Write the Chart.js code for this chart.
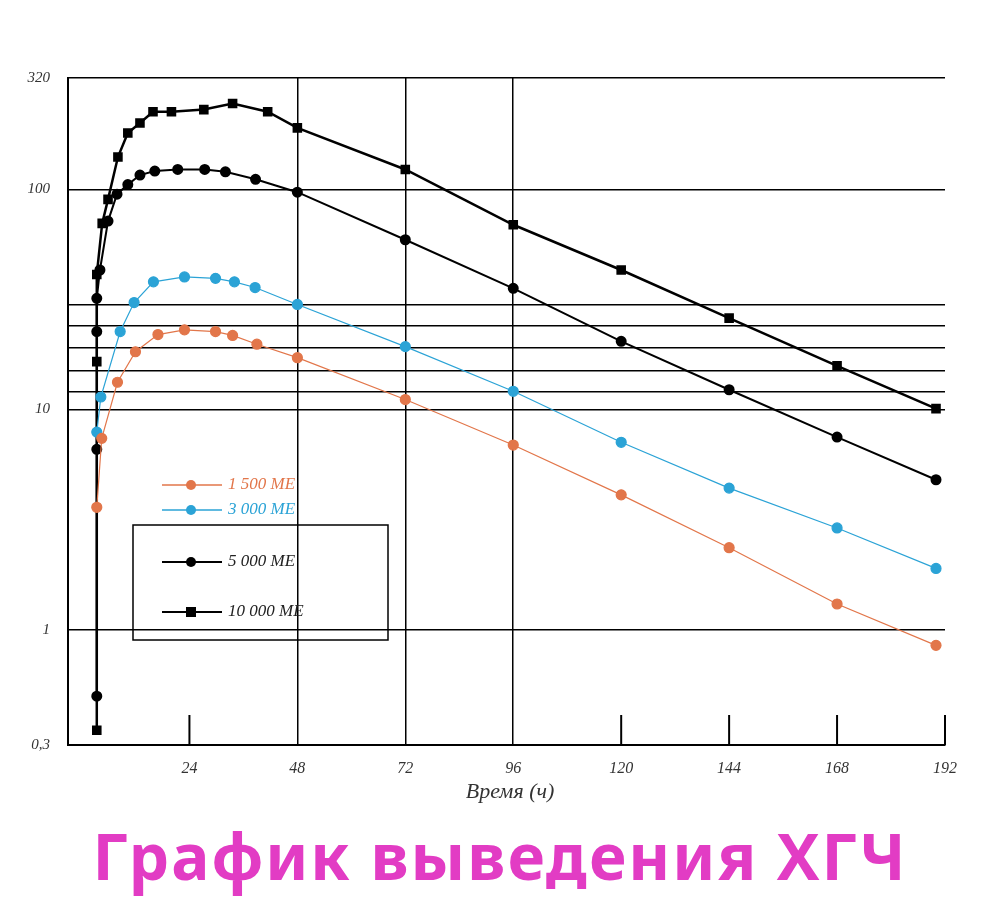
<!DOCTYPE html>
<html><head><meta charset="utf-8">
<script src="https://cdn.jsdelivr.net/npm/chart.js@4"></script>
<style>
body{margin:0;background:#fff;width:1000px;height:903px;overflow:hidden;position:relative}
#wrap{position:absolute;left:0;top:0;width:1000px;height:790px}
#xt{position:absolute;top:778px;left:440px;width:140px;text-align:center;font:italic 22px "Liberation Serif",serif;color:#333}
#tt{position:absolute;top:812px;left:0;width:1000px;text-align:center;font:bold 64px "Noto Sans","DejaVu Sans",sans-serif;color:#e23cc4;letter-spacing:2px}
</style></head><body>
<div id="wrap"><canvas id="c"></canvas></div>
<div id="xt">Время (ч)</div>
<div id="tt">График выведения ХГЧ</div>
<script>
const labels=["1 500 ME","3 000 ME","5 000 ME","10 000 ME"];
const xTicks=[24,48,72,96,120,144,168,192];
const yTicks=[0.3,1,10,12,15,19,24,30,100,320];
const yLabels={0.3:"0,3",1:"1",10:"10",100:"100",320:"320"};
const hOrange=[3.4,4.5,8,12,17,22.9,29.8,33.6,39,48,72,96,120,144,168,190];
const vOrange=[3.6,7.4,13.3,18.3,21.9,23,22.6,21.7,19.8,17.2,11.1,6.9,4.1,2.36,1.31,0.85];
const hBlue=[3.4,4.3,8.6,11.7,16,22.9,29.8,34,38.6,48,72,96,120,144,168,190];
const vBlue=[7.9,11.4,22.6,30.6,38,40,39.4,38,35.8,30,19.3,12.1,7.1,4.4,2.9,1.9];
const hBlack=[3.4,3.4,3.4,3.4,4.1,5.9,7.9,10.3,13,16.3,21.4,27.4,32,38.7,48,72,96,120,144,168,190];
const vBlack=[0.5,6.6,22.6,32,43,71.7,95,105,116,121,123,123,120,111,97,59,35.5,20.4,12.3,7.5,4.8];
const hSq=[3.4,3.4,3.4,4.6,5.9,8.1,10.3,13,15.9,20,27.2,33.6,41.4,48,72,96,120,144,168,190];
const vSq=[0.35,16.5,41,70,90,140,180,200,225,225,230,245,225,190,123,69,43,26,15.8,10.1];
const pts=(h,v)=>h.map((x,i)=>({x,y:v[i]}));
const colors=["#e2764a","#2ba3d6","#000","#000"];
const ds=[
 {label:labels[0],data:pts(hOrange,vOrange),borderColor:colors[0],backgroundColor:colors[0],borderWidth:1.2,pointRadius:5,pointStyle:'circle'},
 {label:labels[1],data:pts(hBlue,vBlue),borderColor:colors[1],backgroundColor:colors[1],borderWidth:1.2,pointRadius:5,pointStyle:'circle'},
 {label:labels[2],data:pts(hBlack,vBlack),borderColor:colors[2],backgroundColor:colors[2],borderWidth:2,pointRadius:4.5,pointStyle:'circle'},
 {label:labels[3],data:pts(hSq,vSq),borderColor:colors[3],backgroundColor:colors[3],borderWidth:2.5,pointRadius:5,pointStyle:'rect'}
];
const extra={id:'extra',afterDraw(ch){
 const c=ch.ctx,a=ch.chartArea,xs=ch.scales.x;
 c.save();c.strokeStyle='#000';c.lineWidth=2;
 [24,120,144,168,192].forEach(t=>{const x=xs.getPixelForValue(t);c.beginPath();c.moveTo(x,a.bottom);c.lineTo(x,a.bottom-30);c.stroke();});
 c.lineWidth=1.5;c.strokeRect(133,525,255,115);
 const ent=[[485,0],[510,1],[562,2],[612,3]];
 c.font='italic 17px "Liberation Serif",serif';c.textBaseline='middle';
 ent.forEach(([y,i])=>{const col=colors[i];c.strokeStyle=col;c.fillStyle=col;c.lineWidth=i>1?2:1.5;
  c.beginPath();c.moveTo(162,y);c.lineTo(222,y);c.stroke();
  if(i==3)c.fillRect(186,y-5,10,10);else{c.beginPath();c.arc(191,y,5,0,7);c.fill();}
  c.fillStyle=i>1?'#222':col;c.fillText(ch.data.datasets[i].label,228,y);});
 c.restore();}};
new Chart(document.getElementById('c'),{type:'line',data:{datasets:ds},plugins:[extra],
options:{responsive:true,maintainAspectRatio:false,animation:false,
 layout:{padding:{top:78,right:55,left:0,bottom:0}},
 plugins:{legend:{display:false},tooltip:{enabled:false}},
 scales:{
  x:{type:'linear',min:-3,max:192,afterBuildTicks:s=>{s.ticks=xTicks.map(v=>({value:v}));},
   afterFit:s=>{s.height=45;},
   grid:{color:ctx=>[48,72,96].includes(ctx.tick&&ctx.tick.value)?'#000':'rgba(0,0,0,0)',lineWidth:1.5,drawTicks:false},
   border:{color:'#000',width:2},
   ticks:{color:'#333',font:{family:'"Liberation Serif",serif',style:'italic',size:16},padding:14}},
  y:{type:'logarithmic',min:0.3,max:320,afterBuildTicks:s=>{s.ticks=yTicks.map(v=>({value:v}));},
   afterFit:s=>{s.width=68;},
   grid:{color:ctx=>(ctx.tick&&ctx.tick.value===0.3)?'rgba(0,0,0,0)':'#000',lineWidth:1.5,drawTicks:false},
   border:{color:'#000',width:2},
   ticks:{color:'#333',font:{family:'"Liberation Serif",serif',style:'italic',size:15},padding:18,autoSkip:false,callback:v=>yLabels[v]??''}}
 }}});
</script></body></html>
